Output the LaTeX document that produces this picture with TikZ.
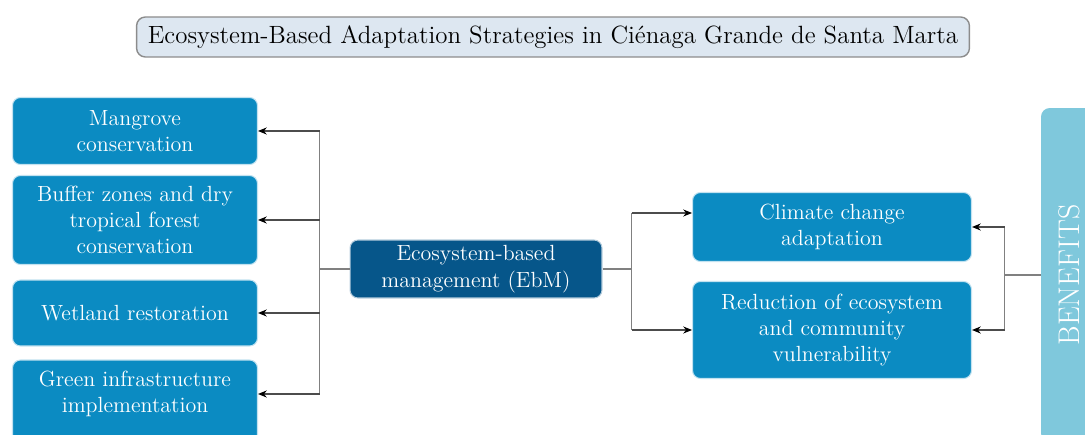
\documentclass[tikz,border=0pt]{standalone}
\usepackage{graphicx}
\usetikzlibrary{arrows.meta,positioning,calc}
\definecolor{boxblue}{HTML}{0B8BC2}
\definecolor{darkblue}{HTML}{06568A}
\definecolor{titlefill}{HTML}{DDE7F1}
\definecolor{benblue}{HTML}{7FC8DC}
\definecolor{linegray}{HTML}{808080}
\begin{document}
\begin{tikzpicture}[x=0.02cm, y=-0.02cm,
      boxtext/.style={
         text=white,
         align=center,
         inner sep=0pt,
         font=\fontsize{12.5}{15}\selectfont},
      bluebox/.style={
         boxtext,
         rectangle,
         rounded corners=4.5pt,
         fill=boxblue,
         draw=white!75!boxblue,
         line width=0.6pt},
      ebmbox/.style={
         bluebox,
         fill=darkblue,
         draw=white!70!darkblue},
      titlebox/.style={
         rectangle,
         rounded corners=5pt,
         fill=titlefill,
         draw=black!45,
         line width=0.8pt,
         inner sep=0pt,
         minimum width=16.66cm,
         minimum height=0.8cm,
         font=\fontsize{14.2}{17}\selectfont},
      benbox/.style={
         rectangle,
         rounded corners=5pt,
         fill=benblue,
         text=white,
         inner sep=0pt,
         minimum width=1.12cm,
         minimum height=6.68cm,
         font=\fontsize{17}{20}\selectfont},
      busline/.style={draw=linegray, line width=0.6pt},
      myarrow/.style={draw=black!70, line width=0.6pt,
         -{Stealth[length=5pt,width=4pt,color=black]}}
      ]
      \clip (0,0) rectangle (1085,435);

      \node[titlebox] (title) at (553,37)
         {Ecosystem-Based Adaptation Strategies in Ciénaga Grande de Santa Marta};

      % left column
      \node[bluebox, minimum width=4.9cm, minimum height=1.34cm] (mang) at (135,131)
         {Mangrove\\conservation};
      \node[bluebox, minimum width=4.9cm, minimum height=1.78cm] (buff) at (135,220)
         {Buffer zones and dry\\tropical forest\\conservation};
      \node[bluebox, minimum width=4.9cm, minimum height=1.32cm] (wet) at (135,313)
         {Wetland restoration};
      % box runs off the bottom edge, so its text sits above the centre
      \node[bluebox, minimum width=4.9cm, minimum height=1.68cm,
         label={[boxtext, yshift=0.16cm]center:{Green infrastructure\\implementation}}]
         (green) at (135,402) {};

      % centre
      \node[ebmbox, minimum width=5.04cm, minimum height=1.16cm] (ebm) at (476,269)
         {Ecosystem-based\\management (EbM)};

      % right column
      \node[bluebox, minimum width=5.58cm, minimum height=1.38cm] (clim) at (832,227)
         {Climate change\\adaptation};
      \node[bluebox, minimum width=5.58cm, minimum height=1.94cm] (vuln) at (832,330)
         {Reduction of ecosystem\\and community\\vulnerability};

      \node[benbox] (ben) at (1069,275) {\rotatebox{90}{BENEFITS}};

      % EbM to the strategies
      \draw[busline] (ebm.west) -- ++(-30,0) coordinate (lbus);
      \draw[busline] (lbus |- mang.east) -- ([yshift=0.16cm]lbus |- green.east);
      \foreach \m in {mang, buff, wet}
         \draw[myarrow] (lbus |- \m.east) -- (\m.east);
      \draw[myarrow] ([yshift=0.16cm]lbus |- green.east) -- ([yshift=0.16cm]green.east);

      % EbM to the outcomes
      \draw[busline] (ebm.east) -- ++(29,0) coordinate (rbus);
      \draw[busline] ([yshift=0.28cm]rbus |- clim.west) -- (rbus |- vuln.west);
      \draw[myarrow] ([yshift=0.28cm]rbus |- clim.west) -- ([yshift=0.28cm]clim.west);
      \draw[myarrow] (rbus |- vuln.west) -- (vuln.west);

      % benefits
      \draw[busline] (ben.west) -- ++(-36,0) coordinate (bbus);
      \draw[busline] (bbus |- clim.east) -- (bbus |- vuln.east);
      \foreach \m in {clim, vuln}
         \draw[myarrow] (bbus |- \m.east) -- (\m.east);
    \end{tikzpicture}
\end{document}
